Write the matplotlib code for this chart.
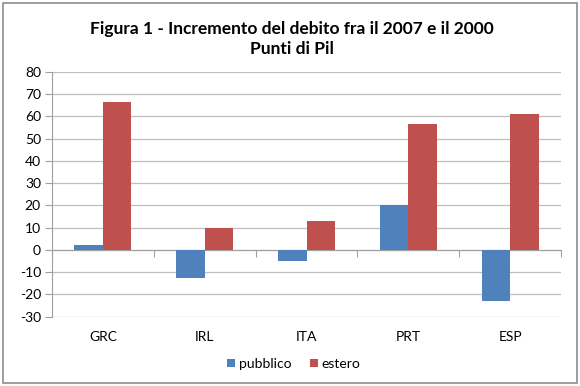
import matplotlib
matplotlib.use("Agg")
import matplotlib.pyplot as plt
from matplotlib.patches import Rectangle
from matplotlib.transforms import blended_transform_factory
import numpy as np

categories = ["GRC", "IRL", "ITA", "PRT", "ESP"]
pubblico = [2.0, -12.5, -5.1, 20.0, -22.9]
estero = [66.7, 9.6, 12.9, 56.6, 61.0]
yticks = list(range(-30, 81, 10))
title = "Figura 1 - Incremento del debito fra il 2007 e il 2000\nPunti di Pil"

plt.rcParams['font.family'] = ['Lato', 'DejaVu Sans']

fig = plt.figure(figsize=(5.8, 3.86), dpi=100)
ax = fig.add_axes([52/580, 1-316.5/386, (561-52)/580, (316.5-72)/386])

x = np.arange(len(categories))
w = 0.28
blue = "#4F81BD"
red = "#C0504D"
ax.bar(x - w, pubblico, width=w, align='edge', color=blue, label="pubblico", zorder=3)
ax.bar(x, estero, width=w, align='edge', color=red, label="estero", zorder=3)

ax.set_xlim(-0.5, len(categories) - 0.5)
ax.set_ylim(-30, 80)
ax.set_yticks(yticks)
ax.set_yticklabels([str(v) for v in yticks], fontsize=10)
ax.grid(axis='y', color='#BFBFBF', linewidth=0.9, zorder=0)
ax.tick_params(axis='y', length=5, color='#A0A0A0', pad=3, labelcolor='black')

ax.spines['top'].set_visible(False)
ax.spines['right'].set_visible(False)
ax.spines['left'].set_color('#A0A0A0')
ax.spines['bottom'].set_color('#A0A0A0')
ax.spines['bottom'].set_position(('data', 0))
ax.set_xticks(np.arange(len(categories) + 1) - 0.5)
ax.set_xticklabels([])
ax.tick_params(axis='x', length=5, color='#A0A0A0', direction='out')

trans = blended_transform_factory(ax.transData, ax.transAxes)
for xi, c in zip(x, categories):
    ax.text(xi, -0.085, c, transform=trans, ha='center', va='center', fontsize=10)

fig.text(0.503, 0.9, title, ha='center', va='center', fontsize=12.5,
         fontweight='bold', linespacing=1.3)

leg = fig.legend(loc='center', bbox_to_anchor=(294/580, 1-364/386), ncol=2,
                 frameon=False, fontsize=10, handlelength=0.55, handleheight=0.55,
                 handletextpad=0.3, columnspacing=1.3)

fig.patches.append(Rectangle((3/580, 3/386), 574/580, 380/386, transform=fig.transFigure,
                             fill=False, edgecolor='#8C8C8C', linewidth=1.2))

fig.savefig("out.png", dpi=100)
